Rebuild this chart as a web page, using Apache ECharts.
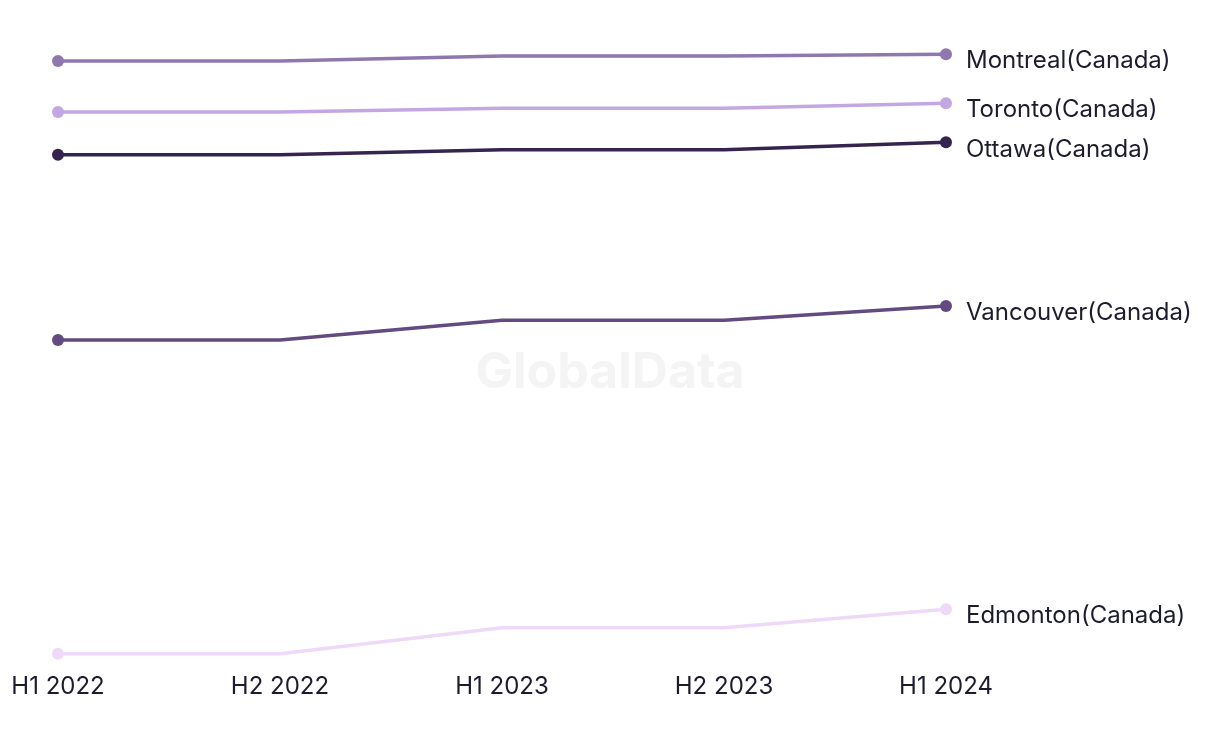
<!DOCTYPE html>
<html>
<head>
<meta charset="utf-8">
<script src="https://cdn.jsdelivr.net/npm/echarts@6/dist/echarts.min.js"></script>
<style>
html,body{margin:0;padding:0;background:#fff;}
#c{width:1220px;height:744px;}
</style>
</head>
<body>
<div id="c"></div>
<script>
const categories = ["H1 2022", "H2 2022", "H1 2023", "H2 2023", "H1 2024"];
const seriesNames = ["Montreal(Canada)", "Toronto(Canada)", "Ottawa(Canada)", "Vancouver(Canada)", "Edmonton(Canada)"];
const montreal = [96.6, 96.6, 97.4, 97.4, 97.7];
const toronto = [88.4, 88.4, 89.0, 89.0, 89.8];
const ottawa = [81.5, 81.5, 82.3, 82.3, 83.5];
const vancouver = [51.6, 51.6, 54.8, 54.8, 57.1];
const edmonton = [1.0, 1.0, 5.2, 5.2, 8.2];
const colors = ["#8f77b0", "#c2a7e3", "#362450", "#634a80", "#efd9f8"];
const values = [montreal, toronto, ottawa, vancouver, edmonton];

const chart = echarts.init(document.getElementById('c'));
const FONT = 'Inter';
const lastIdx = categories.length - 1;
chart.setOption({
  animation: false,
  backgroundColor: '#fff',
  graphic: [{
    type: 'text', left: 'center', top: 348, z: -1,
    style: { text: 'GlobalData', fontFamily: FONT, fontWeight: 'bold', fontSize: 50, fill: '#f4f4f4' }
  }],
  grid: { left: 58, right: 274, top: 40, bottom: 84 },
  xAxis: {
    type: 'category', data: categories, boundaryGap: false,
    axisLine: { show: false }, axisTick: { show: false }, splitLine: { show: false },
    axisLabel: { color: '#1c1c2e', fontFamily: FONT, fontSize: 24, margin: 15 }
  },
  yAxis: { type: 'value', min: 0, max: 100, show: false, splitLine: { show: false } },
  series: seriesNames.map((n, i) => ({
    name: n, type: 'line',
    data: values[i].map((v, j) => ({
      value: v,
      symbol: (j === 0 || j === lastIdx) ? 'circle' : 'none'
    })),
    symbolSize: 12, showSymbol: true, showAllSymbol: true,
    lineStyle: { color: colors[i], width: 3.5 },
    itemStyle: { color: colors[i] },
    endLabel: {
      show: true, formatter: '{a}', distance: 20, offset: [0, 7],
      color: '#1c1c2e', fontFamily: FONT, fontSize: 24
    }
  }))
});
</script>
</body>
</html>
